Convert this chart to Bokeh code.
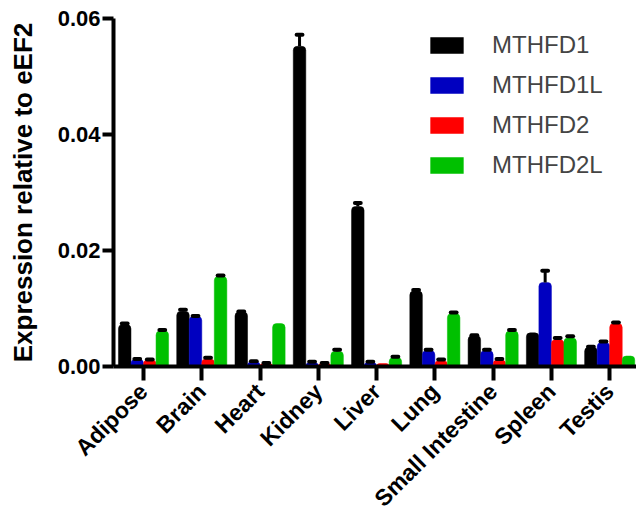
import math
from bokeh.plotting import figure
from bokeh.models import (ColumnDataSource, Range1d, FixedTicker, NumeralTickFormatter,
                          Legend, LegendItem)
from bokeh.embed import file_html
from bokeh.resources import INLINE

# Tissues and genes
tissues = ["Adipose", "Brain", "Heart", "Kidney", "Liver", "Lung",
           "Small Intestine", "Spleen", "Testis"]
genes = ["MTHFD1", "MTHFD1L", "MTHFD2", "MTHFD2L"]
colors = ["#000000", "#0000C0", "#FF0000", "#00C000"]

# Mean expression relative to eEF2, per gene across tissues
mthfd1 = [0.0072, 0.0095, 0.0094, 0.0552, 0.0276, 0.0130, 0.0053, 0.0058, 0.0033]
mthfd1l = [0.0012, 0.0086, 0.0008, 0.0007, 0.0007, 0.0027, 0.0027, 0.0145, 0.0041]
mthfd2 = [0.0011, 0.0013, 0.0005, 0.0005, 0.0005, 0.0010, 0.0011, 0.0046, 0.0074]
mthfd2l = [0.0061, 0.0155, 0.0074, 0.0026, 0.0015, 0.0091, 0.0061, 0.0049, 0.0018]

# Upper error (SEM)
err1 = [0.0002, 0.0003, 0.0001, 0.0020, 0.0006, 0.0002, 0.0001, 0.0000, 0.0001]
err1l = [0.0001, 0.0001, 0.0001, 0.0001, 0.0001, 0.0002, 0.0002, 0.0020, 0.0002]
err2 = [0.0001, 0.0002, 0.0001, 0.0001, 0.0000, 0.0002, 0.0002, 0.0003, 0.0002]
err2l = [0.0002, 0.0002, 0.0000, 0.0003, 0.0002, 0.0002, 0.0002, 0.0003, 0.0000]

series = [mthfd1, mthfd1l, mthfd2, mthfd2l]
errors = [err1, err1l, err2, err2l]

y_ticks = [0.0, 0.02, 0.04, 0.06]

bar_w = 0.215
offsets = [-1.5 * bar_w, -0.5 * bar_w, 0.5 * bar_w, 1.5 * bar_w]

p = figure(width=636, height=525, output_backend="svg", toolbar_location=None,
           x_range=Range1d(-0.515, 8.46), y_range=Range1d(0, 0.06),
           min_border_left=113, min_border_right=0, min_border_top=18,
           min_border_bottom=159)
p.outline_line_color = None
p.xgrid.visible = False
p.ygrid.visible = False
p.background_fill_color = "white"
p.border_fill_color = "white"

legend_items = []
for vals, errs, col, off, name in zip(series, errors, colors, offsets, genes):
    xs = [i + off for i in range(len(tissues))]
    src = ColumnDataSource(dict(x=xs, top=vals))
    r = p.vbar(x="x", top="top", width=bar_w, bottom=0, source=src,
               fill_color=col, line_color=col, line_width=0.5,
               border_radius=(4, 4, 0, 0))
    legend_items.append(LegendItem(label=name, renderers=[r]))
    # upper error bars with a short cap
    ex, ey0, ey1, cx0, cx1 = [], [], [], [], []
    for x, v, e in zip(xs, vals, errs):
        if e > 0:
            ex.append(x)
            ey0.append(v)
            ey1.append(v + e)
            cx0.append(x - 0.05)
            cx1.append(x + 0.05)
    if ex:
        p.segment(x0=ex, y0=ey0, x1=ex, y1=ey1, line_color="black", line_width=3)
        p.segment(x0=cx0, y0=ey1, x1=cx1, y1=ey1, line_color="black", line_width=4,
                  line_cap="round")

legend = Legend(items=legend_items, location=(313, 187))
legend.glyph_width = 41
legend.glyph_height = 20
legend.label_text_font = "Liberation Sans"
legend.label_text_font_size = "24px"
legend.label_standoff = 25
legend.spacing = 12
legend.padding = 0
legend.margin = 0
legend.border_line_alpha = 0
legend.background_fill_alpha = 0
p.add_layout(legend, "center")

# y axis
p.yaxis.ticker = FixedTicker(ticks=y_ticks)
p.yaxis.formatter = NumeralTickFormatter(format="0.00")
p.yaxis.axis_label = "Expression relative to eEF2"
p.yaxis.axis_label_text_font = "Liberation Sans"
p.yaxis.axis_label_text_font_style = "bold"
p.yaxis.axis_label_text_font_size = "26px"
p.yaxis.axis_label_standoff = 17
p.yaxis.major_label_text_font = "Liberation Sans"
p.yaxis.major_label_text_font_style = "bold"
p.yaxis.major_label_text_font_size = "22px"
p.yaxis.major_label_standoff = 2
p.yaxis.major_tick_out = 11
p.yaxis.major_tick_in = 0
p.yaxis.minor_tick_out = 0
p.yaxis.minor_tick_in = 0
p.yaxis.axis_line_width = 4
p.yaxis.major_tick_line_width = 4
p.yaxis.axis_line_color = "black"
p.yaxis.major_tick_line_color = "black"
p.yaxis.major_label_text_color = "black"
p.yaxis.axis_label_text_color = "black"

# x axis with slanted tissue names
p.xaxis.ticker = FixedTicker(ticks=list(range(len(tissues))))
p.xaxis.major_label_overrides = {i: t for i, t in enumerate(tissues)}
p.xaxis.major_label_orientation = math.pi / 4
p.xaxis.major_label_text_font = "Liberation Sans"
p.xaxis.major_label_text_font_style = "bold"
p.xaxis.major_label_text_font_size = "23px"
p.xaxis.major_label_text_color = "black"
p.xaxis.major_label_standoff = 7
p.xaxis.major_tick_out = 14
p.xaxis.major_tick_in = 0
p.xaxis.minor_tick_out = 0
p.xaxis.minor_tick_in = 0
p.xaxis.axis_line_width = 4
p.xaxis.major_tick_line_width = 4
p.xaxis.axis_line_color = "black"
p.xaxis.major_tick_line_color = "black"

with open("out.html", "w") as f:
    f.write(file_html(p, INLINE))
